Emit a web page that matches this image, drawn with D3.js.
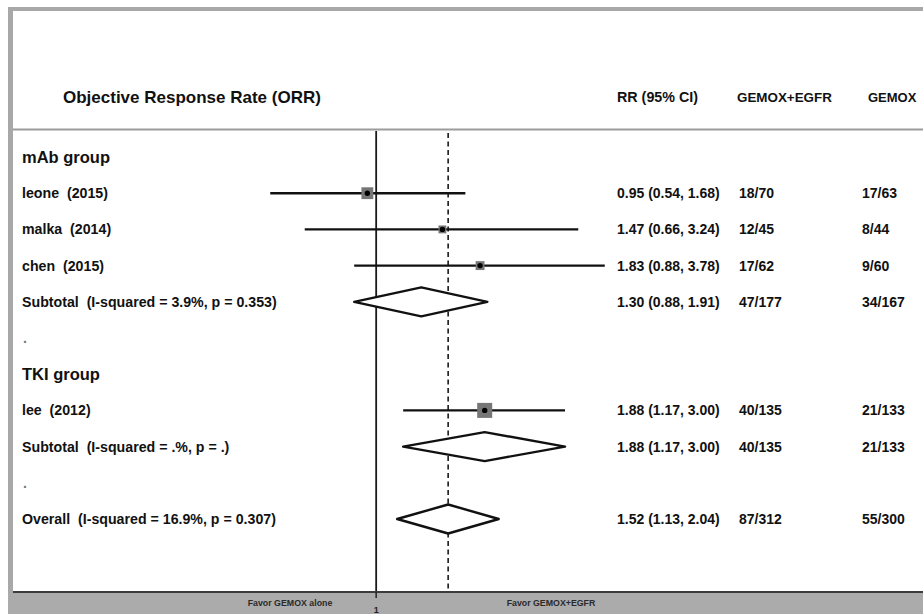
<!DOCTYPE html>
<html>
<head>
<meta charset="utf-8">
<script src="https://cdn.jsdelivr.net/npm/d3@7"></script>
<style>
  html, body { margin: 0; padding: 0; background: #fff; }
  svg text { font-family: "Liberation Sans", Arial, sans-serif; font-weight: bold; fill: #111; white-space: pre; }
</style>
</head>
<body>
<svg id="chart" width="923" height="614"></svg>
<script>
// ---- data ----
const rowLabels = [
  "mAb group", "leone  (2015)", "malka  (2014)", "chen  (2015)",
  "Subtotal  (I-squared = 3.9%, p = 0.353)", ".",
  "TKI group", "lee  (2012)", "Subtotal  (I-squared = .%, p = .)", ".",
  "Overall  (I-squared = 16.9%, p = 0.307)"
];
const rowTypes = ["group", "study", "study", "study", "pooled", "blank",
                  "group", "study", "pooled", "blank", "pooled"];
const rr    = [null, 0.95, 1.47, 1.83, 1.30, null, null, 1.88, 1.88, null, 1.52];
const lower = [null, 0.54, 0.66, 0.88, 0.88, null, null, 1.17, 1.17, null, 1.13];
const upper = [null, 1.68, 3.24, 3.78, 1.91, null, null, 3.00, 3.00, null, 2.04];
const weights = [null, 27.6, 12.3, 15.6, null, null, null, 44.5, null, null, null];
const eventsTreat = [null, "18/70", "12/45", "17/62", "47/177", null, null, "40/135", "40/135", null, "87/312"];
const eventsCtrl  = [null, "17/63", "8/44", "9/60", "34/167", null, null, "21/133", "21/133", null, "55/300"];
const headerLabels = ["Objective Response Rate (ORR)", "RR (95% CI)", "GEMOX+EGFR", "GEMOX"];
const axisTicks = [1];
const favorLabels = ["Favor GEMOX alone", "Favor GEMOX+EGFR"];
const overallRR = 1.52;

// ---- layout ----
const W = 923, H = 614;
const svg = d3.select("#chart");

const x = d3.scaleLog().domain([0.5, 4]).range([257, 614.5]);
const y = d3.scalePoint().domain(d3.range(rowLabels.length)).range([157, 519]);
const boxSize = d3.scaleSqrt().domain([0, 44.5]).range([0, 15]);
const fmt = d3.format(".2f");

const plotTop = 131, plotBottom = 591;
const colRR = 617, colT = 739, colC = 862, labelX = 22;

// frame: grey border on top/left, header rule, bottom band
svg.append("rect").attr("x", 8).attr("y", 7).attr("width", W - 8).attr("height", 4).attr("fill", "#a8a8a8");
svg.append("rect").attr("x", 8).attr("y", 7).attr("width", 5).attr("height", H - 7).attr("fill", "#a8a8a8");
svg.append("rect").attr("x", 13).attr("y", 128.5).attr("width", W - 13).attr("height", 2).attr("fill", "#9c9c9c");
svg.append("rect").attr("x", 8).attr("y", 593).attr("width", W - 8).attr("height", H - 593).attr("fill", "#ababab");
svg.append("rect").attr("x", 13).attr("y", 591).attr("width", W - 13).attr("height", 2).attr("fill", "#3c3c3c");

// header row
const hdr = svg.append("g");
hdr.append("text").attr("x", 63).attr("y", 103).style("font-size", "17px").text(headerLabels[0]);
hdr.append("text").attr("x", colRR).attr("y", 102).style("font-size", "14.3px").text(headerLabels[1]);
hdr.append("text").attr("x", 737).attr("y", 102).style("font-size", "13.4px").text(headerLabels[2]);
hdr.append("text").attr("x", 868).attr("y", 102).style("font-size", "13px").text(headerLabels[3]);

// reference lines: no effect (RR = 1) and pooled overall estimate
svg.append("line").attr("x1", x(1)).attr("x2", x(1)).attr("y1", plotTop).attr("y2", plotBottom)
  .attr("stroke", "#1a1a1a").attr("stroke-width", 1.8);
svg.append("line").attr("x1", x(overallRR)).attr("x2", x(overallRR)).attr("y1", plotTop + 2).attr("y2", plotBottom)
  .attr("stroke", "#1a1a1a").attr("stroke-width", 1.6).attr("stroke-dasharray", "5,3.5");

// row labels and value columns
const rows = svg.append("g");
rowLabels.forEach((lab, i) => {
  const isGroup = rowTypes[i] === "group";
  const isBlank = rowTypes[i] === "blank";
  rows.append("text")
    .attr("x", labelX + (isBlank ? 1 : 0))
    .attr("y", y(i)).attr("dy", "0.35em")
    .style("font-size", isGroup ? "16.5px" : "14.2px")
    .style("fill", isBlank ? "#777" : "#111")
    .text(lab);
  if (rr[i] != null) {
    rows.append("text").attr("x", colRR).attr("y", y(i)).attr("dy", "0.35em").style("font-size", "14px")
      .text(`${fmt(rr[i])} (${fmt(lower[i])}, ${fmt(upper[i])})`);
    rows.append("text").attr("x", colT).attr("y", y(i)).attr("dy", "0.35em").style("font-size", "14px").text(eventsTreat[i]);
    rows.append("text").attr("x", colC).attr("y", y(i)).attr("dy", "0.35em").style("font-size", "14px").text(eventsCtrl[i]);
  }
});

// individual studies: CI line, weighted box, point estimate
const studies = d3.range(rowLabels.length).filter(i => rowTypes[i] === "study");
const g = svg.append("g");
studies.forEach(i => {
  g.append("line").attr("x1", x(lower[i])).attr("x2", x(upper[i])).attr("y1", y(i)).attr("y2", y(i))
    .attr("stroke", "#111").attr("stroke-width", 2.4);
  const s = boxSize(weights[i]);
  g.append("rect").attr("x", x(rr[i]) - s / 2).attr("y", y(i) - s / 2).attr("width", s).attr("height", s)
    .attr("fill", "#767676");
  g.append("circle").attr("cx", x(rr[i])).attr("cy", y(i)).attr("r", 2.7).attr("fill", "#000");
});

// pooled estimates: diamonds
const pooled = d3.range(rowLabels.length).filter(i => rowTypes[i] === "pooled");
const dh = 14.5;
pooled.forEach(i => {
  const pts = [[x(lower[i]), y(i)], [x(rr[i]), y(i) - dh], [x(upper[i]), y(i)], [x(rr[i]), y(i) + dh]];
  g.append("path").attr("d", d3.line()(pts) + "Z")
    .attr("fill", "#fff").attr("stroke", "#111").attr("stroke-width", 2.4).attr("stroke-linejoin", "round");
});

// bottom axis: tick at 1 and favour labels
const ax = svg.append("g");
axisTicks.forEach(t => {
  ax.append("line").attr("x1", x(t)).attr("x2", x(t)).attr("y1", 592).attr("y2", 598)
    .attr("stroke", "#222").attr("stroke-width", 1.5);
  ax.append("text").attr("x", x(t)).attr("y", 613).attr("text-anchor", "middle")
    .style("font-size", "9px").style("fill", "#222").text(String(t));
});
ax.append("text").attr("x", 290).attr("y", 606).attr("text-anchor", "middle")
  .style("font-size", "8.8px").style("fill", "#2a2a2a").text(favorLabels[0]);
ax.append("text").attr("x", 551).attr("y", 606).attr("text-anchor", "middle")
  .style("font-size", "8.8px").style("fill", "#2a2a2a").text(favorLabels[1]);
</script>
</body>
</html>
